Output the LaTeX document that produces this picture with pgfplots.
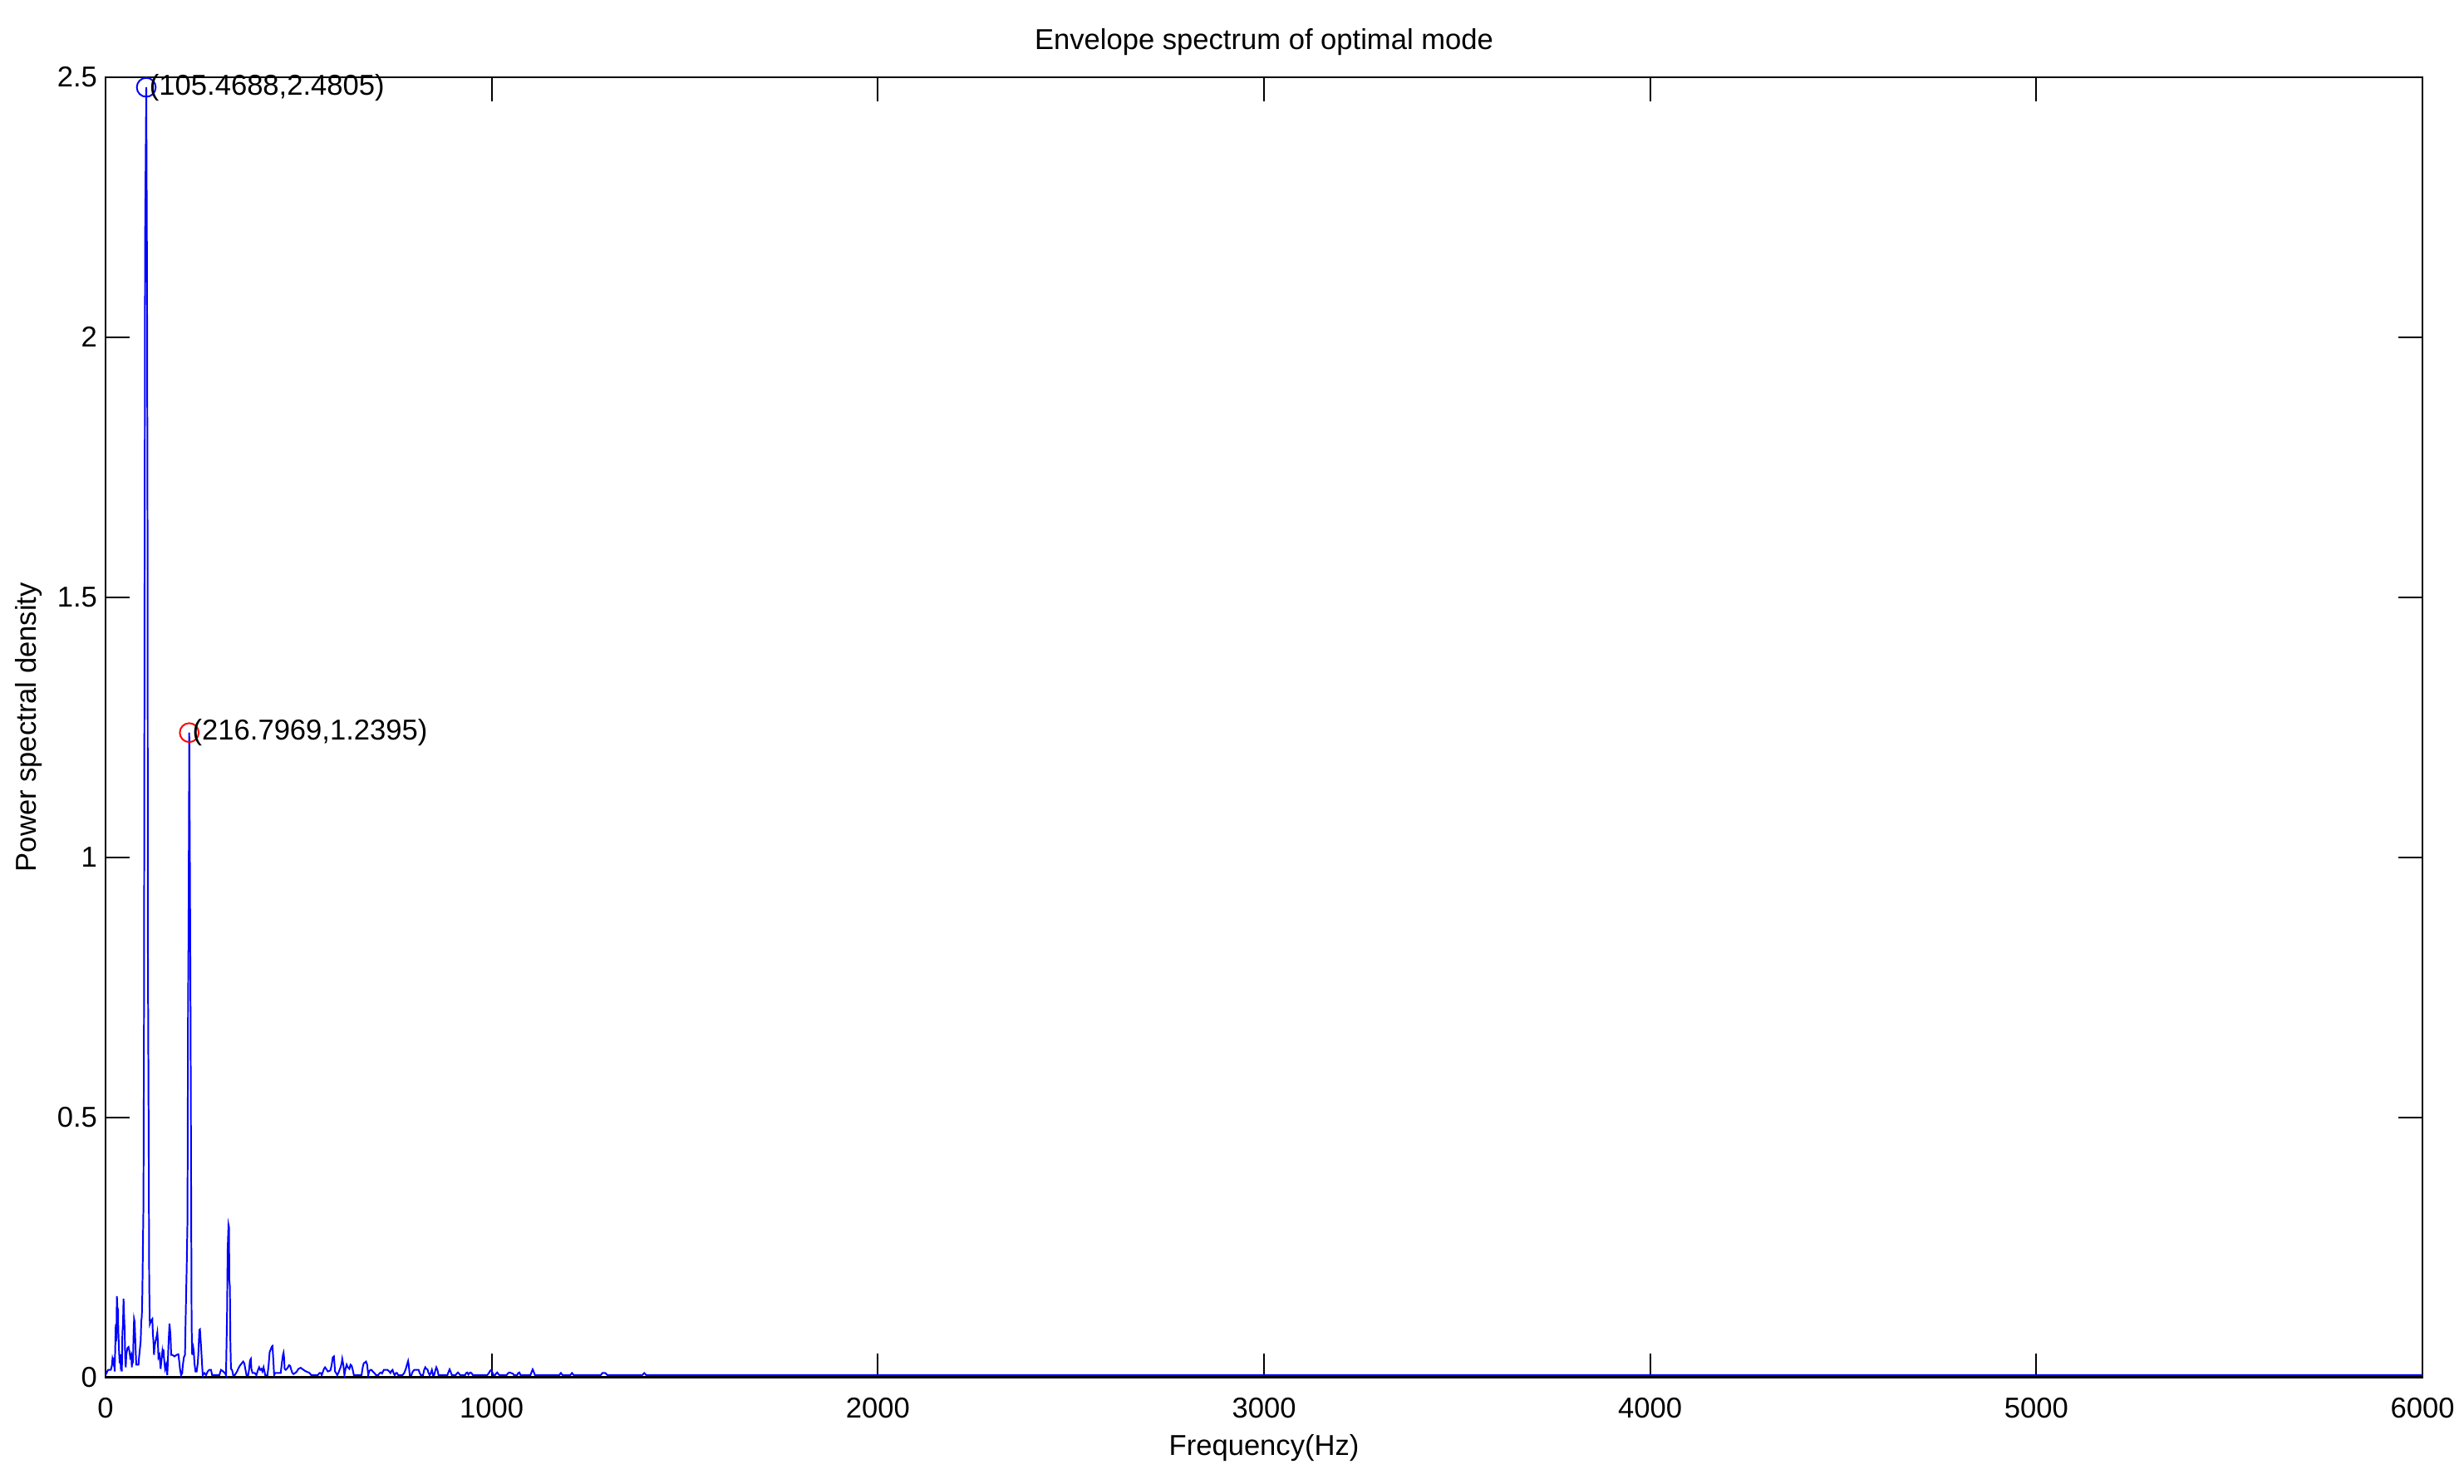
\documentclass[border=0pt]{standalone}
\usepackage{fontspec}
\setmainfont{Liberation Sans}
\usepackage{pgfplots}
\pgfplotsset{compat=1.18}
\usepackage{pgfplotstable}

\newcommand\ff{\fontsize{7}{8.4}\selectfont}

% envelope spectrum
\pgfplotstableread{
f v
0 0.004
6.5 0.014
13.6 0.014
16.5 0.022
18 0.035
20.8 0.026
22.2 0.038
23.7 0.011
26.5 0.101
27.9 0.069
29.4 0.156
30.8 0.133
32.3 0.131
33 0.091
35.1 0.048
36.6 0.027
38 0.044
39.4 0.022
40.9 0.027
42.3 0.011
43.7 0.086
45.2 0.101
46.6 0.151
48.1 0.117
49.5 0.091
50.9 0.038
52.4 0.019
53.8 0.043
56.7 0.056
59.5 0.058
62.4 0.048
63.8 0.038
66.7 0.043
68.1 0.019
69.6 0.038
71 0.027
72.4 0.075
73.9 0.112
75.3 0.107
76.7 0.080
78.2 0.048
79.6 0.024
85.3 0.024
86.8 0.038
89.6 0.059
91.1 0.070
92.5 0.107
94 0.117
95.4 0.163
96.8 0.251
98.2 0.33
99.6 0.70
101 1.46
102.4 2.18
105.4688 2.4805
107.4 2.13
108.9 1.58
109.6 0.84
111.7 0.46
113.1 0.18
114.7 0.102
118.3 0.109
121.2 0.112
122.6 0.083
124 0.070
125.5 0.043
126.9 0.059
129.8 0.070
132.7 0.080
134.1 0.086
135.5 0.070
137 0.038
139.8 0.043
142.7 0.016
144.1 0.027
147 0.048
148.4 0.038
149.9 0.054
151.3 0.038
152.7 0.027
154.2 0.016
157 0.024
159.9 0.004
161.3 0.027
162.8 0.059
165.6 0.103
167.1 0.091
168.5 0.075
170 0.043
172.8 0.043
178.5 0.040
184.3 0.043
188.6 0.044
191.4 0.027
192.8 0.016
195.7 0.004
198.6 0.008
200 0.022
202.9 0.038
205.8 0.043
207.2 0.101
208.6 0.155
210.1 0.208
212.2 0.30
212.9 0.50
213.6 0.70
215 0.86
216.7969 1.2395
218.6 0.97
220 0.73
221.5 0.41
222.9 0.10
224.4 0.043
227.3 0.056
228.7 0.048
230.2 0.027
233 0.011
235.9 0.011
238.8 0.027
240.2 0.043
243.1 0.091
244.5 0.092
246 0.075
247.4 0.059
250.2 0.022
251.7 0.004
256 0.008
260.3 0.004
264.6 0.011
268.9 0.014
273.2 0.014
276 0.004
294.7 0.004
299 0.014
304.7 0.011
309 0.008
312 0.004
314.8 0.128
316.2 0.244
318.4 0.293
319.8 0.288
320.5 0.187
322 0.174
323.4 0.064
324.8 0.016
327.7 0.014
330.5 0.004
334.8 0.004
340.6 0.011
343.5 0.016
347.8 0.022
352 0.026
356.4 0.030
359.2 0.027
362 0.016
365 0.004
369.3 0.004
372 0.016
374 0.032
376.3 0.035
377.7 0.016
380.6 0.008
386.3 0.008
390.6 0.004
395 0.014
397.8 0.019
400.7 0.014
403.5 0.016
406.4 0.011
409.3 0.019
413.6 0.004
419.3 0.004
422.2 0.022
425 0.048
428 0.054
430.8 0.059
432.2 0.060
433.7 0.043
435 0.027
436.5 0.004
439.4 0.008
453.7 0.008
456.6 0.027
459.5 0.043
461 0.047
462.3 0.038
463.8 0.016
466.6 0.014
469.5 0.016
472.4 0.019
475.2 0.023
478 0.022
481 0.014
483.9 0.008
486.7 0.006
491 0.008
495.3 0.011
499.6 0.016
505.4 0.018
511 0.015
516.8 0.012
522.6 0.010
528.3 0.008
532.6 0.004
549.8 0.004
554.1 0.008
557 0.008
559.9 0.004
565.6 0.016
568.5 0.019
571.3 0.016
575.6 0.011
580 0.012
582.8 0.014
585.7 0.024
588.5 0.038
591.4 0.040
592.8 0.027
594.3 0.011
597.1 0.008
600 0.004
602.9 0.008
608.6 0.019
611.5 0.027
613 0.035
615.8 0.024
617.2 0.014
618.6 0.004
621.5 0.016
624.4 0.024
627.3 0.019
631.6 0.016
634.4 0.024
637.3 0.022
640.2 0.014
643 0.004
663 0.004
666 0.019
668.8 0.027
671.7 0.028
674.6 0.030
677.5 0.024
680.3 0.004
683.2 0.012
686 0.014
689 0.014
691.8 0.011
696 0.008
700.4 0.004
706 0.004
710.4 0.008
713.3 0.009
716 0.007
720.5 0.014
724.8 0.014
730.5 0.014
734.8 0.011
737.7 0.008
740.5 0.012
743.4 0.014
746.3 0.007
749 0.004
752 0.008
755 0.008
757.7 0.004
769.1 0.004
773.4 0.008
777.7 0.016
780.6 0.024
783.5 0.031
785 0.024
787.8 0.004
792.1 0.004
795 0.010
799.3 0.014
810.7 0.014
813.6 0.008
816.5 0.004
822.2 0.004
825.1 0.014
828 0.019
830.8 0.016
833.7 0.015
836.5 0.008
839.4 0.004
842.3 0.008
845.1 0.014
848 0.004
850.9 0.004
853.7 0.012
856.6 0.019
859.5 0.014
862.3 0.004
885.3 0.004
888.2 0.010
891 0.015
893.9 0.010
896.8 0.004
906.8 0.004
909.7 0.007
912.5 0.009
915.4 0.007
918.3 0.004
931.2 0.004
934 0.008
936.9 0.009
939.8 0.005
942.7 0.008
945.5 0.009
948.4 0.007
951.3 0.004
988.5 0.004
992.8 0.008
995.7 0.012
998.6 0.014
1001.4 0.010
1004.3 0.004
1008.6 0.004
1011.5 0.007
1014.4 0.009
1017.2 0.006
1020.1 0.004
1038.7 0.004
1043 0.008
1045.9 0.009
1050.2 0.008
1054.5 0.007
1057.4 0.004
1066 0.004
1068.8 0.008
1071.7 0.009
1074.6 0.004
1100.4 0.004
1103.3 0.010
1106.1 0.015
1109 0.010
1111.9 0.004
1174.9 0.004
1179.2 0.008
1183.5 0.004
1203.6 0.004
1207.9 0.008
1212.2 0.004
1282.4 0.004
1286.7 0.008
1293.9 0.008
1299.6 0.004
1390 0.004
1395 0.008
1400 0.004
6000 0.004
}\envspec

\begin{document}
\begin{tikzpicture}
\path[use as bounding box] (-25.7pt,-25.9pt) rectangle (574.3pt,335.4pt);
\begin{axis}[
  scale only axis,
  width=564.2pt, height=316.6pt,
  xmin=0, xmax=6000, ymin=0, ymax=2.5,
  xtick={0,1000,2000,3000,4000,5000,6000},
  ytick={0,0.5,1,1.5,2,2.5},
  tick align=inside,
  major tick length=5.8pt,
  axis line style={line width=0.5pt},
  every tick/.style={black, line width=0.4pt},
  /pgf/number format/1000 sep={},
  /pgf/number format/assume math mode=true,
  tick label style={font=\ff},
  xticklabel style={yshift=-1.5pt},
  yticklabel style={xshift=1.5pt},
  every axis title shift=0pt,
  title={Envelope spectrum of optimal mode},
  title style={font=\ff, at={(axis description cs:0.5,1.027)}, anchor=center},
  xlabel={Frequency(Hz)},
  xlabel style={font=\ff, at={(axis description cs:0.5,-0.0543)}, anchor=center},
  ylabel={Power spectral density},
  ylabel style={font=\ff, at={(axis description cs:-0.0333,0.5)}, anchor=center},
  clip mode=individual,
]
\addplot[blue, line width=0.4pt] table[x=f, y=v] {\envspec};
\addplot[only marks, mark=o, mark size=2.3pt, blue, mark options={line width=0.4pt}]
  coordinates {(105.4688,2.4805)};
\addplot[only marks, mark=o, mark size=2.3pt, red, mark options={line width=0.4pt}]
  coordinates {(216.7969,1.2395)};
\node[anchor=west, inner sep=0.6pt, font=\ff] at (axis cs:105.4688,2.4805) {(105.4688,2.4805)};
\node[anchor=west, inner sep=0.6pt, font=\ff] at (axis cs:216.7969,1.2395) {(216.7969,1.2395)};
\end{axis}
\end{tikzpicture}
\end{document}
